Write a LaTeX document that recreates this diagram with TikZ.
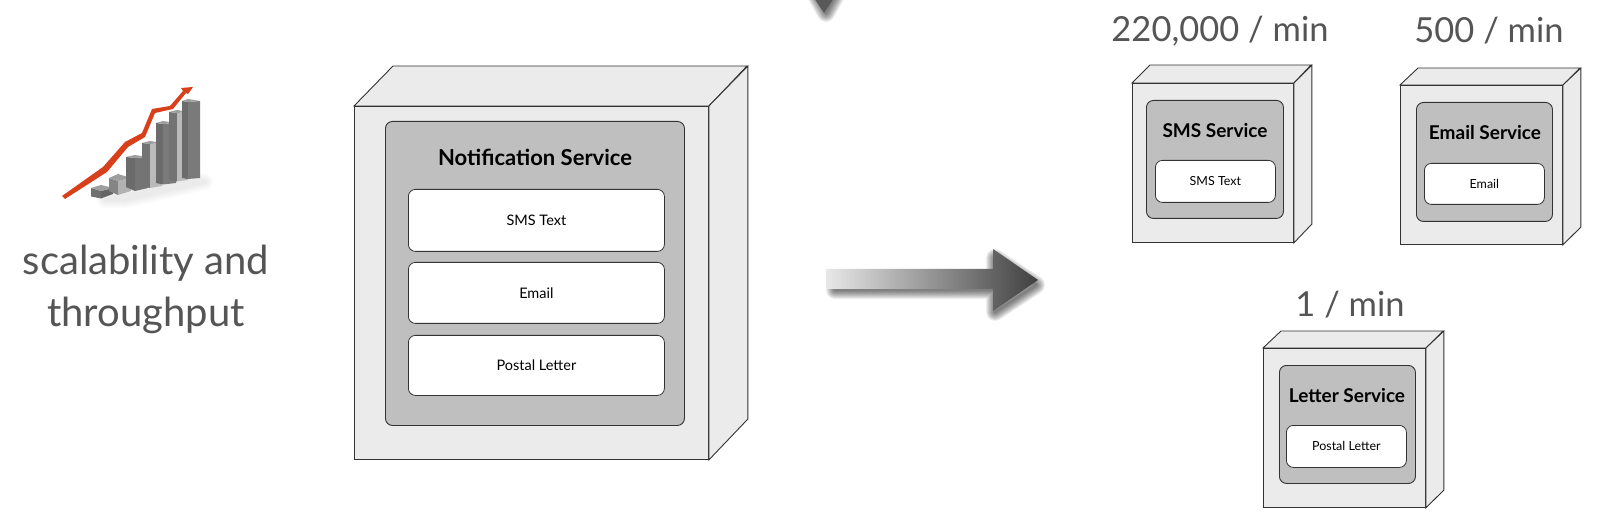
\documentclass[tikz,border=0pt]{standalone}
\usepackage{fontspec}
\setmainfont{Lato}
\usepackage{xcolor}
\usepackage{tikz}
\usetikzlibrary{positioning}

\definecolor{boxface}{HTML}{EBEBEB}
\definecolor{boxgrey}{HTML}{BFBFBF}
\definecolor{boxline}{HTML}{333333}
\definecolor{ratetext}{HTML}{555555}
\definecolor{chartred}{HTML}{D8401C}

\tikzset{
  cubeface/.style={draw=boxline,fill=boxface,line width=0.9pt},
  frontbox/.style={cubeface,rectangle,inner sep=0pt,anchor=north west},
  greybox/.style={draw=boxline,fill=boxgrey,rectangle,rounded corners=7pt,line width=0.9pt,inner sep=0pt,anchor=north west},
  msgbox/.style={draw=boxline,fill=white,rectangle,rounded corners=7pt,line width=0.8pt,inner sep=0pt,anchor=north west,font=\fontsize{14.5}{16}\selectfont},
  smallmsg/.style={msgbox,font=\fontsize{12.5}{14}\selectfont},
  titletext/.style={font=\fontsize{22}{24}\selectfont\bfseries,text=black},
  smalltitle/.style={font=\fontsize{19}{22}\selectfont\bfseries,text=black},
  ratelabel/.style={font=\fontsize{34.5}{36}\selectfont,text=ratetext},
  bigtext/.style={font=\fontsize{40}{52}\selectfont,text=ratetext,align=center},
  softshadow/.style={draw=black,draw opacity=0.07,line join=round},
}

\begin{document}
\begin{tikzpicture}[x=1pt,y=-1pt]
  \useasboundingbox (0,0) rectangle (1600,526);
  \fill[white] (0,0) rectangle (1600,526);

  % chart
  \foreach \w in {16,12,8,4}
    \path[softshadow,draw opacity=0.02,line width=\w pt] (105,200) -- (195,180) -- (205,182) -- (125,200) -- cycle;
  \foreach \xa/\xm/\xb/\ytop/\ymid/\yback/\ybot/\yleft/\yright/\cola/\colb in {
    91/101/113/188/191/185/198.5/196.5/194/black!56/black!60,
    109/118/131/178/181/174/195/191/191/black!48/black!30,
    126/135/148/157/158/155/191/187/188/black!58/black!54,
    142/150/162/143/144/141/188/186/186/black!55/black!27,
    156/163/176/123/124/121/184.5/183/183/black!58/black!52,
    169/177/188/112/113/110/181.5/180/180/black!55/black!27,
    182/188/200/101/102/99/179/178/178/black!58/black!52} {
    \fill[\cola] (\xa,\ytop) -- (\xm,\ymid) -- (\xm,\ybot) -- (\xa,\yleft) -- cycle;
    \fill[\colb] (\xm,\ymid) -- (\xb,\ytop) -- (\xb,\yright) -- (\xm,\ybot) -- cycle;
    \fill[black!38] (\xa,\ytop) -- (\xm,\yback) -- (\xb,\ytop) -- (\xm,\ymid) -- cycle;
  }
  \fill[chartred] (62,196) -- (103,167) -- (125,142) -- (142,133) -- (152,109) -- (170,106) -- (183,91) -- (181,88) -- (193,87) -- (188,94) -- (186,93) -- (173,109) -- (155,113) -- (145,137) -- (128,147) -- (107,172) -- (65,199) -- cycle;
  \node[bigtext] (scaling) at (146,289) {scalability and\\throughput};

  % monolith
  \node[frontbox,minimum width=354pt,minimum height=353pt] (mainfront) at (354,106) {};
  \draw[cubeface] (mainfront.north west) -- ++(39,-40) -- ++(354,0) -- (mainfront.north east) -- cycle;
  \draw[cubeface] (mainfront.north east) -- ++(39,-40) -- ++(0,353) -- (mainfront.south east) -- cycle;
  \node[greybox,minimum width=299pt,minimum height=304pt] (maingrey) at (385,121) {};
  \node[titletext] (maintitle) at (535,157) {Notification Service};
  \node[msgbox,minimum width=256pt,minimum height=62pt] (mainsms) at (408,189) {SMS Text};
  \node[msgbox,minimum width=256pt,minimum height=61pt] (mainemail) at (408,262) {Email};
  \node[msgbox,minimum width=256pt,minimum height=60pt] (mainletter) at (408,335) {Postal Letter};

  % arrows
  \foreach \w in {18,16,14,12,10,8,6,4,2} {
    \path[softshadow,line width=\w pt] (835,281) -- (995,281) -- (995,258) -- (1036,285) -- (995,312) -- (995,290) -- (835,290) -- cycle;
    \path[softshadow,line width=\w pt] (816,-5) -- (826,13) -- (836,-5) -- cycle;
  }
  \path[left color=black!9,right color=black!75] (826,269) -- (993,269) -- (993,249) -- (1038,280) -- (993,311) -- (993,289) -- (826,289) -- cycle;
  \fill[black!65] (812,-5) -- (824,13) -- (836,-5) -- cycle;

  % sms service
  \node[ratelabel] (smsrate) at (1220,31) {220,000 / min};
  \node[frontbox,minimum width=161pt,minimum height=159pt] (smsfront) at (1132,83) {};
  \draw[cubeface] (smsfront.north west) -- ++(18,-18) -- ++(161,0) -- (smsfront.north east) -- cycle;
  \draw[cubeface] (smsfront.north east) -- ++(18,-18) -- ++(0,159) -- (smsfront.south east) -- cycle;
  \node[greybox,minimum width=137pt,minimum height=118pt] (smsgrey) at (1146,100) {};
  \node[smalltitle] (smstitle) at (1215,131) {SMS Service};
  \node[smallmsg,minimum width=120pt,minimum height=42pt] (smsmsg) at (1155,160) {SMS Text};

  % email service
  \node[ratelabel] (emailrate) at (1489,31) {500 / min};
  \node[frontbox,minimum width=162pt,minimum height=159pt] (emailfront) at (1400,85) {};
  \draw[cubeface] (emailfront.north west) -- ++(18,-17) -- ++(162,0) -- (emailfront.north east) -- cycle;
  \draw[cubeface] (emailfront.north east) -- ++(18,-17) -- ++(0,159) -- (emailfront.south east) -- cycle;
  \node[greybox,minimum width=136pt,minimum height=119pt] (emailgrey) at (1416,102) {};
  \node[smalltitle] (emailtitle) at (1485,133) {Email Service};
  \node[smallmsg,minimum width=120pt,minimum height=41pt] (emailmsg) at (1424,163) {Email};

  % letter service
  \node[ratelabel] (letterrate) at (1350,305) {1 / min};
  \node[frontbox,minimum width=162pt,minimum height=159pt] (letterfront) at (1263,348) {};
  \draw[cubeface] (letterfront.north west) -- ++(18,-17) -- ++(162,0) -- (letterfront.north east) -- cycle;
  \draw[cubeface] (letterfront.north east) -- ++(18,-17) -- ++(0,159) -- (letterfront.south east) -- cycle;
  \node[greybox,minimum width=136pt,minimum height=118pt] (lettergrey) at (1279,365) {};
  \node[smalltitle] (lettertitle) at (1347,396) {Letter Service};
  \node[smallmsg,minimum width=120pt,minimum height=42pt] (lettermsg) at (1286,425) {Postal Letter};
\end{tikzpicture}
\end{document}
